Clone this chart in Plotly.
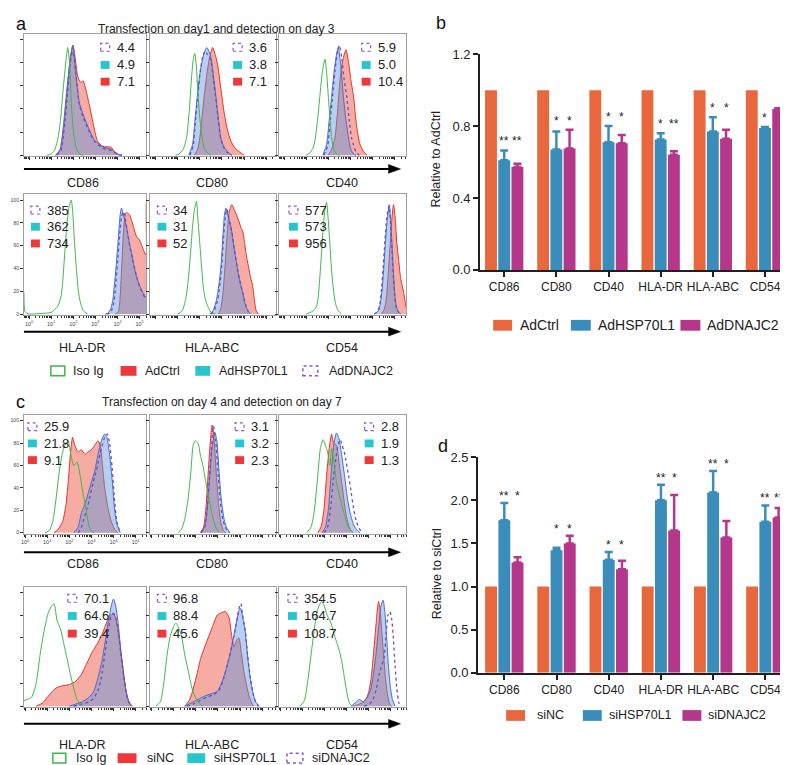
import numpy as np
import plotly.graph_objects as go

W, H = 788, 765
FONT = "Arial, Liberation Sans, Helvetica, sans-serif"

# ---------------- text / categories ----------------
MARKERS = ["CD86", "CD80", "CD40", "HLA-DR", "HLA-ABC", "CD54"]
A_SERIES = ["Iso Ig", "AdCtrl", "AdHSP70L1", "AdDNAJC2"]
C_SERIES = ["Iso Ig", "siNC", "siHSP70L1", "siDNAJC2"]
A_TITLE = "Transfection on day1 and detection on day 3"
C_TITLE = "Transfection on day 4 and detection on day 7"
HIST_DECADES = [0, 1, 2, 3, 4, 5]
PCT_TICKS = [0, 20, 40, 60, 80, 100]

# ---------------- MFI values shown in the histogram boxes ----------------
A_MFI_DNA = ["4.4", "3.6", "5.9", "385", "34", "577"]
A_MFI_HSP = ["4.9", "3.8", "5.0", "362", "31", "573"]
A_MFI_CTRL = ["7.1", "7.1", "10.4", "734", "52", "956"]
C_MFI_DNA = ["25.9", "3.1", "2.8", "70.1", "96.8", "354.5"]
C_MFI_HSP = ["21.8", "3.2", "1.9", "64.6", "88.4", "164.7"]
C_MFI_CTRL = ["9.1", "2.3", "1.3", "39.4", "45.6", "108.7"]

# ---------------- histogram curves: (log10 intensity, % of max) ----------------
# panel a
A_CD86_ISO = [(0.8,0),(1.0,1),(1.15,4),(1.3,14),(1.42,30),(1.53,54),(1.65,78),(1.75,93),(1.83,80),(1.91,45),(2.0,22),(2.14,6),(2.3,1),(2.45,0)]
A_CD86_CTRL = [(1.2,0),(1.4,4),(1.55,20),(1.7,50),(1.85,80),(1.98,95),(2.08,85),(2.2,68),(2.32,63),(2.45,64),(2.55,58),(2.73,43),(2.96,22),(3.1,12),(3.35,7.5),(3.7,7),(3.88,3),(4.1,0)]
A_CD86_HSP = [(1.2,0),(1.4,5),(1.55,25),(1.7,55),(1.85,82),(1.98,95),(2.1,72),(2.28,45),(2.45,35),(2.68,24),(2.96,13),(3.35,7),(3.73,5),(4.0,1),(4.2,0)]
A_CD86_DNA = [(1.25,0),(1.45,5),(1.6,25),(1.75,55),(1.88,82),(2.0,92),(2.12,70),(2.28,43),(2.45,33),(2.68,22),(2.96,12),(3.35,6),(3.73,4),(4.0,1),(4.2,0)]

A_CD80_ISO = [(0.9,0),(1.06,1),(1.25,5),(1.4,15),(1.52,37),(1.62,65),(1.7,82),(1.77,88),(1.84,78),(1.92,52),(2.05,23),(2.2,6),(2.35,2),(2.5,0)]
A_CD80_CTRL = [(1.75,0),(1.9,5),(2.0,15),(2.1,32),(2.2,51),(2.32,70),(2.45,85),(2.58,93),(2.68,88),(2.8,79),(2.95,58),(3.1,37),(3.25,22),(3.41,12),(3.6,6),(3.86,2),(4.0,0)]
A_CD80_HSP = [(1.5,0),(1.67,9),(1.78,30),(1.89,51),(2.0,70),(2.15,85),(2.32,93),(2.5,85),(2.62,68),(2.73,51),(2.85,30),(2.95,15),(3.1,7),(3.26,3),(3.45,0)]
A_CD80_DNA = [(1.55,0),(1.7,8),(1.8,28),(1.9,50),(2.02,72),(2.14,86),(2.24,90),(2.35,87),(2.5,82),(2.62,65),(2.73,48),(2.85,28),(2.95,14),(3.1,6),(3.26,2),(3.45,0)]

A_CD40_ISO = [(1.0,0),(1.17,2),(1.3,6),(1.39,12),(1.5,28),(1.62,51),(1.73,72),(1.85,83),(1.93,70),(2.0,51),(2.08,30),(2.15,15),(2.25,5),(2.38,1),(2.5,0)]
A_CD40_CTRL = [(2.0,0),(2.15,5),(2.3,15),(2.42,38),(2.53,65),(2.65,82),(2.8,91),(2.92,80),(3.02,65),(3.14,51),(3.28,25),(3.44,9),(3.6,3),(3.75,0)]
A_CD40_HSP = [(1.75,0),(1.92,9),(2.03,28),(2.15,51),(2.28,75),(2.38,88),(2.45,93),(2.55,80),(2.68,51),(2.8,30),(2.91,15),(3.02,5),(3.14,1),(3.25,0)]
A_CD40_DNA = [(1.8,0),(1.97,8),(2.08,28),(2.2,52),(2.32,76),(2.42,90),(2.5,95),(2.6,85),(2.72,65),(2.83,51),(2.95,30),(3.05,15),(3.14,9),(3.25,3),(3.4,0)]

A_HLADR_ISO = [(-0.23,19),(-0.18,2),(0.0,0),(0.5,0.5),(1.0,1.5),(1.3,7),(1.45,16),(1.52,28),(1.62,55),(1.72,80),(1.82,95),(1.91,100),(1.98,88),(2.06,62),(2.14,40),(2.22,22),(2.28,14),(2.38,6),(2.45,3),(2.65,0)]
A_HLADR_CTRL = [(3.9,0),(4.04,2),(4.12,15),(4.2,45),(4.28,75),(4.36,88),(4.42,89),(4.55,87),(4.64,82),(4.73,76),(4.86,68),(5.0,65),(5.1,60),(5.18,56),(5.27,52),(5.3,53),(5.32,100),(5.36,100)]
A_HLADR_HSP = [(3.45,0),(3.58,1),(3.7,5),(3.8,14),(3.88,30),(3.95,45),(4.05,70),(4.12,87),(4.18,93),(4.28,86),(4.41,76),(4.52,64),(4.64,53),(4.75,42),(4.86,33),(5.0,25),(5.12,20),(5.23,16),(5.3,15),(5.36,20)]
A_HLADR_DNA = [(3.5,0),(3.65,1),(3.75,4),(3.85,12),(3.93,28),(4.0,45),(4.1,70),(4.18,85),(4.26,90),(4.35,84),(4.45,72),(4.55,60),(4.66,50),(4.77,40),(4.88,32),(5.0,24),(5.12,19),(5.23,15),(5.3,14),(5.36,18)]

A_HLAABC_ISO = [(1.0,0),(1.21,3),(1.36,13),(1.45,25),(1.52,39),(1.6,58),(1.67,76),(1.76,92),(1.85,99),(1.92,82),(2.0,62),(2.08,42),(2.15,25),(2.25,13),(2.38,6),(2.53,1),(2.7,0)]
A_HLAABC_CTRL = [(2.85,0),(2.95,5),(3.03,15),(3.11,33),(3.22,65),(3.33,90),(3.45,96),(3.55,92),(3.64,88),(3.76,82),(3.86,76),(3.95,72),(4.03,62),(4.1,52),(4.2,42),(4.3,32),(4.39,25),(4.47,12),(4.55,3),(4.65,0)]
A_HLAABC_HSP = [(2.45,0),(2.6,3),(2.75,12),(2.88,28),(2.97,45),(3.05,70),(3.12,88),(3.18,93),(3.28,86),(3.41,76),(3.55,58),(3.71,39),(3.82,28),(3.94,19),(4.05,9),(4.17,3),(4.3,0)]
A_HLAABC_DNA = [(2.5,0),(2.65,3),(2.8,12),(2.92,28),(3.0,45),(3.08,68),(3.16,86),(3.23,92),(3.32,84),(3.45,72),(3.58,55),(3.72,38),(3.84,27),(3.96,17),(4.08,8),(4.2,2),(4.32,0)]

A_CD54_ISO = [(1.0,0),(1.24,2),(1.38,4),(1.47,7),(1.55,16),(1.62,33),(1.7,55),(1.77,76),(1.85,92),(1.92,98),(2.0,82),(2.08,59),(2.15,38),(2.23,22),(2.33,9),(2.45,3),(2.6,0)]
A_CD54_CTRL = [(4.4,0),(4.5,3),(4.58,8),(4.65,19),(4.72,38),(4.8,62),(4.88,85),(4.95,96),(5.02,85),(5.1,62),(5.18,48),(5.26,33),(5.34,25),(5.41,19),(5.5,8),(5.58,2)]
A_CD54_HSP = [(4.1,0),(4.27,3),(4.35,9),(4.42,19),(4.5,38),(4.58,62),(4.66,82),(4.76,96),(4.82,82),(4.88,62),(4.95,35),(5.03,13),(5.1,5),(5.18,2),(5.28,0)]
A_CD54_DNA = [(4.08,0),(4.25,3),(4.33,9),(4.4,20),(4.48,40),(4.56,64),(4.64,84),(4.74,95),(4.8,84),(4.86,64),(4.93,37),(5.01,14),(5.08,5),(5.16,2),(5.26,0)]

# panel c
C_CD86_ISO = [(0.9,0),(1.1,2),(1.25,10),(1.4,30),(1.55,55),(1.7,72),(1.85,80),(1.95,82),(2.05,72),(2.2,60),(2.35,63),(2.5,50),(2.62,35),(2.75,22),(2.85,10),(2.95,3),(3.1,0)]
C_CD86_CTRL = [(1.3,0),(1.5,3),(1.7,10),(1.85,25),(1.95,45),(2.05,70),(2.15,85),(2.25,78),(2.4,72),(2.55,74),(2.7,70),(2.85,72),(3.0,74),(3.15,78),(3.3,82),(3.4,78),(3.5,60),(3.6,40),(3.75,22),(3.9,10),(4.05,3),(4.2,0)]
C_CD86_HSP = [(2.2,0),(2.4,5),(2.55,18),(2.7,25),(2.85,35),(3.0,45),(3.15,55),(3.3,70),(3.45,82),(3.6,88),(3.7,85),(3.82,70),(3.95,45),(4.05,20),(4.15,8),(4.3,0)]
C_CD86_DNA = [(2.4,0),(2.55,5),(2.7,15),(2.85,25),(3.0,38),(3.15,50),(3.3,62),(3.45,75),(3.6,85),(3.72,88),(3.82,80),(3.95,55),(4.05,28),(4.15,10),(4.3,0)]

C_CD80_ISO = [(1.2,0),(1.35,3),(1.5,12),(1.65,30),(1.78,55),(1.88,78),(1.98,82),(2.1,80),(2.2,70),(2.32,60),(2.45,45),(2.6,30),(2.75,15),(2.9,5),(3.05,0)]
C_CD80_CTRL = [(2.2,0),(2.35,5),(2.45,20),(2.55,50),(2.65,80),(2.74,96),(2.82,85),(2.92,55),(3.02,28),(3.12,10),(3.25,2),(3.35,0)]
C_CD80_HSP = [(2.25,0),(2.4,5),(2.5,18),(2.62,48),(2.75,78),(2.87,89),(2.95,82),(3.05,55),(3.15,30),(3.28,12),(3.4,4),(3.55,0)]
C_CD80_DNA = [(2.25,0),(2.4,5),(2.5,18),(2.62,50),(2.72,80),(2.8,95),(2.9,82),(3.0,55),(3.1,30),(3.22,12),(3.35,4),(3.5,0)]

C_CD40_ISO = [(1.2,0),(1.4,5),(1.55,20),(1.7,50),(1.82,75),(1.94,83),(2.05,78),(2.15,72),(2.25,60),(2.33,75),(2.42,65),(2.55,45),(2.7,32),(2.85,20),(3.0,10),(3.15,3),(3.3,0)]
C_CD40_CTRL = [(1.7,0),(1.85,5),(1.98,20),(2.1,50),(2.22,75),(2.33,88),(2.42,80),(2.55,78),(2.68,60),(2.82,40),(2.95,20),(3.08,8),(3.2,2),(3.3,0)]
C_CD40_HSP = [(1.9,0),(2.05,5),(2.18,20),(2.3,50),(2.42,78),(2.55,89),(2.65,85),(2.78,70),(2.92,50),(3.05,30),(3.2,15),(3.35,6),(3.5,2),(3.62,0)]
C_CD40_DNA = [(2.0,0),(2.15,5),(2.3,25),(2.42,50),(2.55,70),(2.65,80),(2.72,83),(2.8,78),(2.9,72),(3.0,62),(3.1,50),(3.2,38),(3.32,22),(3.45,10),(3.6,3),(3.75,0)]

C_HLADR_ISO = [(-0.05,5),(0.1,6),(0.3,8),(0.5,20),(0.7,48),(0.9,70),(1.05,82),(1.2,88),(1.31,90),(1.45,75),(1.6,68),(1.75,55),(1.9,42),(2.05,28),(2.2,16),(2.35,6),(2.5,2),(2.6,0)]
C_HLADR_CTRL = [(0.5,0),(0.8,3),(1.1,10),(1.4,16),(1.7,18),(2.0,19),(2.3,22),(2.55,28),(2.8,38),(3.05,48),(3.3,56),(3.5,64),(3.7,74),(3.85,79),(4.0,82),(4.12,75),(4.25,60),(4.4,38),(4.55,15),(4.7,4),(4.85,0)]
C_HLADR_HSP = [(2.0,0),(2.3,2),(2.6,4),(2.9,8),(3.1,13),(3.3,25),(3.48,40),(3.65,60),(3.8,78),(3.92,90),(4.0,94),(4.1,88),(4.22,71),(4.35,45),(4.5,22),(4.62,8),(4.78,0)]
C_HLADR_DNA = [(2.2,0),(2.6,2),(2.9,4),(3.1,7),(3.3,14),(3.45,25),(3.6,45),(3.75,65),(3.88,78),(4.0,81),(4.1,78),(4.22,65),(4.35,42),(4.5,20),(4.62,7),(4.78,0)]

C_HLAABC_ISO = [(0.2,0),(0.4,4),(0.55,20),(0.7,45),(0.85,62),(1.0,70),(1.1,73),(1.2,70),(1.35,62),(1.5,45),(1.65,32),(1.8,18),(1.95,9),(2.1,4),(2.3,0)]
C_HLAABC_CTRL = [(1.5,0),(1.7,5),(1.85,13),(2.05,28),(2.22,42),(2.4,52),(2.6,62),(2.8,72),(2.97,80),(3.15,82),(3.34,83),(3.5,78),(3.62,62),(3.72,52),(3.85,58),(3.95,60),(4.05,48),(4.18,30),(4.3,18),(4.42,8),(4.6,0)]
C_HLAABC_HSP = [(1.5,0),(1.8,3),(2.1,6),(2.4,9),(2.7,11),(2.97,13),(3.2,22),(3.42,36),(3.6,50),(3.72,62),(3.85,75),(3.95,84),(4.02,86),(4.12,78),(4.24,65),(4.35,42),(4.46,25),(4.58,12),(4.7,4),(4.85,0)]
C_HLAABC_DNA = [(1.6,0),(1.9,2),(2.2,5),(2.5,8),(2.8,10),(3.05,14),(3.25,24),(3.45,38),(3.62,52),(3.75,64),(3.88,78),(3.98,88),(4.04,90),(4.12,80),(4.24,66),(4.35,44),(4.46,26),(4.58,12),(4.7,4),(4.85,0)]

C_CD54_ISO = [(0.9,0),(1.1,5),(1.25,22),(1.4,45),(1.55,68),(1.7,85),(1.87,92),(2.0,88),(2.12,80),(2.24,76),(2.35,70),(2.46,62),(2.58,55),(2.69,48),(2.8,38),(2.91,25),(3.02,12),(3.13,3),(3.25,0)]
C_CD54_CTRL = [(3.3,0),(3.6,2),(3.85,5),(4.0,12),(4.12,25),(4.22,45),(4.33,70),(4.45,92),(4.52,85),(4.6,65),(4.7,40),(4.78,22),(4.86,10),(4.95,2),(5.05,0)]
C_CD54_HSP = [(3.2,0),(3.4,3),(3.58,6),(3.75,4),(3.95,8),(4.1,15),(4.22,28),(4.35,48),(4.47,72),(4.56,88),(4.66,93),(4.74,82),(4.82,60),(4.9,35),(4.98,18),(5.08,6),(5.2,0)]
C_CD54_DNA = [(3.8,0),(4.05,2),(4.2,6),(4.35,15),(4.48,28),(4.6,36),(4.7,42),(4.8,65),(4.88,80),(4.97,83),(5.05,76),(5.12,60),(5.2,35),(5.28,15),(5.37,3),(5.45,0)]

A_CURVES = [
    (A_CD86_ISO, A_CD86_CTRL, A_CD86_HSP, A_CD86_DNA),
    (A_CD80_ISO, A_CD80_CTRL, A_CD80_HSP, A_CD80_DNA),
    (A_CD40_ISO, A_CD40_CTRL, A_CD40_HSP, A_CD40_DNA),
    (A_HLADR_ISO, A_HLADR_CTRL, A_HLADR_HSP, A_HLADR_DNA),
    (A_HLAABC_ISO, A_HLAABC_CTRL, A_HLAABC_HSP, A_HLAABC_DNA),
    (A_CD54_ISO, A_CD54_CTRL, A_CD54_HSP, A_CD54_DNA),
]
C_CURVES = [
    (C_CD86_ISO, C_CD86_CTRL, C_CD86_HSP, C_CD86_DNA),
    (C_CD80_ISO, C_CD80_CTRL, C_CD80_HSP, C_CD80_DNA),
    (C_CD40_ISO, C_CD40_CTRL, C_CD40_HSP, C_CD40_DNA),
    (C_HLADR_ISO, C_HLADR_CTRL, C_HLADR_HSP, C_HLADR_DNA),
    (C_HLAABC_ISO, C_HLAABC_CTRL, C_HLAABC_HSP, C_HLAABC_DNA),
    (C_CD54_ISO, C_CD54_CTRL, C_CD54_HSP, C_CD54_DNA),
]

# ---------------- bar data ----------------
B_SERIES = ["AdCtrl", "AdHSP70L1", "AdDNAJC2"]
B_CTRL = [1.0, 1.0, 1.0, 1.0, 1.0, 1.0]
B_HSP = [0.61, 0.67, 0.71, 0.725, 0.77, 0.79]
B_HSP_ERR = [0.055, 0.10, 0.09, 0.035, 0.08, 0.005]
B_DNA = [0.573, 0.676, 0.705, 0.64, 0.73, 0.895]
B_DNA_ERR = [0.017, 0.104, 0.045, 0.02, 0.05, 0.005]
B_HSP_SIG = ["**", "*", "*", "*", "*", "*"]
B_DNA_SIG = ["**", "*", "*", "**", "*", ""]

D_SERIES = ["siNC", "siHSP70L1", "siDNAJC2"]
D_CTRL = [1.0, 1.0, 1.0, 1.0, 1.0, 1.0]
D_HSP = [1.77, 1.42, 1.31, 2.0, 2.09, 1.75]
D_HSP_ERR = [0.20, 0.03, 0.09, 0.18, 0.25, 0.19]
D_DNA = [1.28, 1.50, 1.20, 1.65, 1.57, 1.80]
D_DNA_ERR = [0.06, 0.09, 0.10, 0.41, 0.19, 0.11]
D_HSP_SIG = ["**", "*", "*", "**", "**", "**"]
D_DNA_SIG = ["*", "*", "*", "*", "*", "**"]

# ---------------- styles ----------------
GREEN = "#3DB845"
RED_LINE = "#E2322B"
RED_FILL = "rgba(236,70,50,0.45)"
BLUE_LINE = "#4A6CC4"
BLUE_FILL = "rgba(90,150,225,0.45)"
PURPLE = "#6B4CC6"
SW_RED = "#F0373A"
SW_CYAN = "#26C6CC"
SW_PURPLE = "#8556D8"
ORANGE = "#E9673C"
BBLUE = "#3A8DBB"
MAGENTA = "#B5378A"


def fx(p):
    return p / W


def fy(p):
    return 1 - p / H


fig = go.Figure()
axes = {}
annotations = []
shapes = []
counter = [0]


def new_axes(x0, x1, y0, y1, xo, yo):
    counter[0] += 1
    n = counter[0]
    s = "" if n == 1 else str(n)
    xd = dict(domain=[fx(x0), fx(x1)], anchor="y" + s)
    xd.update(xo)
    yd = dict(domain=[fy(y1), fy(y0)], anchor="x" + s)
    yd.update(yo)
    axes["xaxis" + s] = xd
    axes["yaxis" + s] = yd
    return "x" + s, "y" + s


def text(x, y, s, size=12, xanchor="center", yanchor="middle", color="#222", angle=0):
    annotations.append(dict(x=fx(x), y=fy(y), xref="paper", yref="paper", text=s, showarrow=False,
                            xanchor=xanchor, yanchor=yanchor, textangle=angle,
                            font=dict(size=size, color=color, family=FONT)))


def rect(x0, y0, x1, y1, fill, line_color, dash="solid", lw=1):
    shapes.append(dict(type="rect", xref="paper", yref="paper", x0=fx(x0), x1=fx(x1), y0=fy(y1), y1=fy(y0),
                       fillcolor=fill, line=dict(color=line_color, width=lw, dash=dash)))


def arrow(x0, x1, y):
    shapes.append(dict(type="line", xref="paper", yref="paper", x0=fx(x0), x1=fx(x1 - 8), y0=fy(y), y1=fy(y),
                       line=dict(color="black", width=2)))
    path = "M %f %f L %f %f L %f %f Z" % (fx(x1 - 12), fy(y - 4.5), fx(x1), fy(y), fx(x1 - 12), fy(y + 4.5))
    shapes.append(dict(type="path", xref="paper", yref="paper", path=path, fillcolor="black",
                       line=dict(color="black", width=0.5)))


MINOR = [float(np.log10(k)) + d for d in range(-1, 6) for k in range(2, 10)]


def hist_box(x0, x1, y0, y1, left_decade, curves, mfi, leg_x, leg_rows, xlab, ylab):
    xr = [left_decade, left_decade + (x1 - x0) / 22.2]
    xo = dict(range=xr, showline=True, mirror=True, linecolor="#a0a0a0", linewidth=1,
              ticks="outside", ticklen=3, tickwidth=1, tickcolor="#333",
              tickmode="array", tickvals=HIST_DECADES,
              ticktext=["10<sup>%d</sup>" % d for d in HIST_DECADES],
              showticklabels=xlab, tickfont=dict(size=5.5, color="#444", family=FONT),
              minor=dict(tickmode="array", tickvals=MINOR, ticks="outside", ticklen=2,
                         tickwidth=1, tickcolor="#333", showgrid=False),
              showgrid=False, zeroline=False, fixedrange=True)
    yo = dict(range=[-0.8, 105], showline=True, mirror=True, linecolor="#a0a0a0", linewidth=1,
              ticks="outside", ticklen=3, tickwidth=1, tickcolor="#333",
              tickmode="array", tickvals=PCT_TICKS, showticklabels=ylab,
              tickfont=dict(size=5, color="#444", family=FONT),
              showgrid=False, zeroline=False, fixedrange=True)
    xa, ya = new_axes(x0, x1, y0, y1, xo, yo)
    iso, ctrl, hsp, dna = curves
    for pts, lc, fc, dash, lw in ((ctrl, RED_LINE, RED_FILL, "solid", 1),
                                  (hsp, BLUE_LINE, BLUE_FILL, "solid", 1),
                                  (dna, PURPLE, None, "dot", 1.3),
                                  (iso, GREEN, None, "solid", 1)):
        fig.add_trace(go.Scatter(
            x=[p[0] for p in pts], y=[p[1] for p in pts], mode="lines",
            line=dict(color=lc, width=lw, dash=dash, shape="spline", smoothing=0.6),
            fill="tozeroy" if fc else None, fillcolor=fc,
            xaxis=xa, yaxis=ya, showlegend=False, hoverinfo="skip"))
    sw_w, sw_h = 9, 8
    for (val, kind), yy in zip(zip(mfi, ["dna", "hsp", "ctrl"]), leg_rows):
        if kind == "dna":
            rect(leg_x, yy - sw_h / 2, leg_x + sw_w, yy + sw_h / 2, "white", SW_PURPLE, "dot", 1.2)
        elif kind == "hsp":
            rect(leg_x, yy - sw_h / 2, leg_x + sw_w, yy + sw_h / 2, SW_CYAN, SW_CYAN, "solid", 0)
        else:
            rect(leg_x, yy - sw_h / 2, leg_x + sw_w, yy + sw_h / 2, SW_RED, SW_RED, "solid", 0)
        text(leg_x + 14, yy, val, size=13, xanchor="left")


COLS = [(13, 136), (140, 266), (269, 397)]

# ---------------- panel a ----------------
text(3, 9, "a", size=18, xanchor="left", color="#111")
text(206, 14, A_TITLE, size=12)
A_ROWS = [(19, 144), (183, 306)]
A_LEG_X = [[90, 223, 352], [20, 147, 279]]
A_LEG_Y = [[33, 51, 68], [199, 216, 233]]
for r in range(2):
    for c in range(3):
        i = r * 3 + c
        hist_box(COLS[c][0], COLS[c][1], A_ROWS[r][0], A_ROWS[r][1], -0.23, A_CURVES[i],
                 [A_MFI_DNA[i], A_MFI_HSP[i], A_MFI_CTRL[i]], A_LEG_X[r][c], A_LEG_Y[r],
                 xlab=(r == 1 and c == 0), ylab=(r == 1 and c == 0))
arrow(13, 391, 157)
arrow(13, 391, 323)
for c, lab in enumerate(MARKERS[:3]):
    text(72 + 130 * c, 171, lab, size=12.5)
for c, lab in enumerate(MARKERS[3:]):
    text(72 + 130 * c, 340, lab, size=12.5)

LEG_A = [(40, 54, 60), (110, 126, 133), (185, 200, 207), (293, 308, 317)]
LEG_C = [(42, 55, 63), (107, 126, 135), (177, 195, 202), (277, 293, 300)]


def hist_legend(items, names, y):
    styles = [("white", GREEN, "solid", 1.5), (SW_RED, SW_RED, "solid", 0),
              (SW_CYAN, SW_CYAN, "solid", 0), ("white", SW_PURPLE, "dot", 1.5)]
    for (sx0, sx1, tx), nm, st in zip(items, names, styles):
        rect(sx0, y - 5, sx1, y + 5, st[0], st[1], st[2], st[3])
        text(tx, y, nm, size=12.5, xanchor="left")


hist_legend(LEG_A, A_SERIES, 363)

# ---------------- panel c ----------------
text(3, 395, "c", size=18, xanchor="left", color="#111")
text(212, 395, C_TITLE, size=12)
C_ROWS = [(408, 529), (583, 706)]
C_LEG_X = [[17, 225, 355], [57, 147, 278]]
C_LEG_Y = [[420, 437, 454], [595, 613, 631]]
for r in range(2):
    for c in range(3):
        i = r * 3 + c
        hist_box(COLS[c][0], COLS[c][1], C_ROWS[r][0], C_ROWS[r][1], -0.05, C_CURVES[i],
                 [C_MFI_DNA[i], C_MFI_HSP[i], C_MFI_CTRL[i]], C_LEG_X[r][c], C_LEG_Y[r],
                 xlab=(r == 0 and c == 0), ylab=(r == 0 and c == 0))
arrow(13, 391, 548)
arrow(13, 391, 723)
for c, lab in enumerate(MARKERS[:3]):
    text(72 + 130 * c, 560, lab, size=12.5)
for c, lab in enumerate(MARKERS[3:]):
    text(72 + 130 * c, 745, lab, size=12.5)
hist_legend(LEG_C, C_SERIES, 758)


# ---------------- bar panels ----------------
def bar_panel(x0, x1, y0, y1, xr, yr, ytv, series, vals, errs, sigs, star_shift):
    xo = dict(type="category", range=xr, showline=True, linecolor="#231F20", linewidth=2,
              ticks="outside", ticklen=5, tickwidth=1.5, tickcolor="#231F20", tickangle=0,
              tickfont=dict(size=12, color="#222", family=FONT), showgrid=False, zeroline=False,
              fixedrange=True)
    yo = dict(range=yr, showline=True, linecolor="#231F20", linewidth=2, ticks="outside",
              ticklen=5, tickwidth=1.5, tickcolor="#231F20", tickmode="array", tickvals=ytv,
              ticktext=["%.1f" % v for v in ytv], tickfont=dict(size=13, color="#222", family=FONT),
              showgrid=False, zeroline=False, fixedrange=True)
    xa, ya = new_axes(x0, x1, y0, y1, xo, yo)
    colors = [ORANGE, BBLUE, MAGENTA]
    for k in range(3):
        err = errs[k]
        fig.add_trace(go.Bar(
            x=MARKERS, y=vals[k], name=series[k], marker=dict(color=colors[k], line=dict(width=0)),
            error_y=(dict(type="data", array=err, arrayminus=[0] * len(err), symmetric=False,
                          color=colors[k], thickness=2.5, width=4) if err is not None else None),
            xaxis=xa, yaxis=ya, showlegend=False, hoverinfo="skip"))
    slot = (1 - 0.24) / 3
    for i in range(len(MARKERS)):
        tops = []
        for k, off in ((1, 0.0), (2, slot)):
            if sigs[k][i]:
                tops.append((off, vals[k][i] + errs[k][i], sigs[k][i]))
        if not tops:
            continue
        level = max(t[1] for t in tops)
        for off, _, s in tops:
            annotations.append(dict(x=i + off, y=level, xref=xa, yref=ya, text=s, showarrow=False,
                                    xanchor="center", yanchor="middle", yshift=star_shift,
                                    font=dict(size=12, color="#222", family=FONT)))


# panel b
text(425, 8, "b", size=18, xanchor="left", color="#111")
bar_panel(471, 782, 40, 260, [-0.46, 5.48], [0, 1.2], [0.0, 0.4, 0.8, 1.2], B_SERIES,
          [B_CTRL, B_HSP, B_DNA], [None, B_HSP_ERR, B_DNA_ERR], [None, B_HSP_SIG, B_DNA_SIG], 9)
text(427, 147, "Relative to AdCtrl", size=12.5, angle=-90)
for (sx0, sx1, tx), nm, col in zip([(484, 503, 509), (562, 582, 587), (672, 692, 697)], B_SERIES,
                                   [ORANGE, BBLUE, MAGENTA]):
    rect(sx0, 311, sx1, 322, col, col, "solid", 0)
    text(tx, 316, nm, size=14, xanchor="left")

# panel d
text(427, 440, "d", size=18, xanchor="left", color="#111")
bar_panel(469, 785, 451, 671, [-0.5, 5.53], [0, 2.5], [0.0, 0.5, 1.0, 1.5, 2.0, 2.5], D_SERIES,
          [D_CTRL, D_HSP, D_DNA], [None, D_HSP_ERR, D_DNA_ERR], [None, D_HSP_SIG, D_DNA_SIG], 7)
text(427, 570, "Relative to siCtrl", size=12.5, angle=-90)
for (sx0, sx1, tx), nm, col in zip([(497, 516, 526), (574, 593, 598), (674, 693, 698)], D_SERIES,
                                   [ORANGE, BBLUE, MAGENTA]):
    rect(sx0, 709, sx1, 720, col, col, "solid", 0)
    text(tx, 714, nm, size=12.5, xanchor="left")

fig.update_layout(
    width=W, height=H, autosize=False, margin=dict(l=0, r=0, t=0, b=0),
    paper_bgcolor="white", plot_bgcolor="white", showlegend=False,
    barmode="group", bargap=0.24, bargroupgap=0.1,
    font=dict(family=FONT, color="#222"),
    annotations=annotations, shapes=shapes, **axes)

fig.write_html("out.html")
